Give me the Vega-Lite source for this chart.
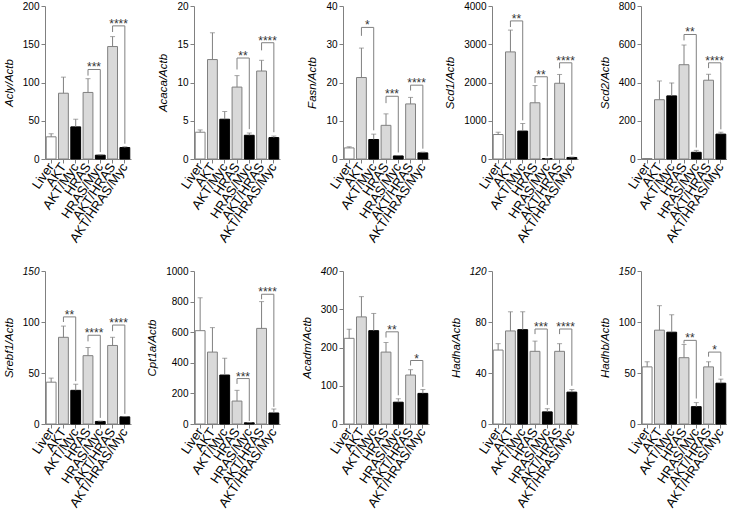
{
"$schema": "https://vega.github.io/schema/vega-lite/v6.json",
"padding": {"left": 3, "top": 1, "right": 0, "bottom": 0},
"config": {
 "font": "Liberation Sans",
 "view": {"stroke": null},
 "axis": {"grid": false, "domainColor": "#808080", "tickColor": "#808080", "labelColor": "#000", "titleColor": "#000", "tickSize": 4},
 "axisY": {"labelPadding": 2, "titleFontSize": 11.5, "titleFontStyle": "italic", "titleFontWeight": "normal", "titlePadding": 8}
},
"data": {"values": [
{"gene":"Acly","kind":"bar","group":"Liver","y":29,"hi":33},
{"gene":"Acly","kind":"bar","group":"AKT","y":86,"hi":107},
{"gene":"Acly","kind":"bar","group":"AKT/Myc","y":42,"hi":52},
{"gene":"Acly","kind":"bar","group":"HRAS","y":87,"hi":105},
{"gene":"Acly","kind":"bar","group":"HRAS/Myc","y":5,"hi":5.5},
{"gene":"Acly","kind":"bar","group":"AKT/HRAS","y":147,"hi":160},
{"gene":"Acly","kind":"bar","group":"AKT/HRAS/Myc","y":15,"hi":16},
{"gene":"Acly","kind":"br","id":"b1","ord":1,"group":"HRAS","y":109},
{"gene":"Acly","kind":"br","id":"b1","ord":2,"group":"HRAS","y":117},
{"gene":"Acly","kind":"br","id":"b1","ord":3,"group":"HRAS/Myc","y":117},
{"gene":"Acly","kind":"br","id":"b1","ord":4,"group":"HRAS/Myc","y":9},
{"gene":"Acly","kind":"star","group":"HRAS","y":117,"label":"***"},
{"gene":"Acly","kind":"br","id":"b2","ord":1,"group":"AKT/HRAS","y":166},
{"gene":"Acly","kind":"br","id":"b2","ord":2,"group":"AKT/HRAS","y":174},
{"gene":"Acly","kind":"br","id":"b2","ord":3,"group":"AKT/HRAS/Myc","y":174},
{"gene":"Acly","kind":"br","id":"b2","ord":4,"group":"AKT/HRAS/Myc","y":20},
{"gene":"Acly","kind":"star","group":"AKT/HRAS","y":174,"label":"****"},

{"gene":"Acaca","kind":"bar","group":"Liver","y":3.5,"hi":3.8},
{"gene":"Acaca","kind":"bar","group":"AKT","y":13,"hi":16.5},
{"gene":"Acaca","kind":"bar","group":"AKT/Myc","y":5.2,"hi":6.2},
{"gene":"Acaca","kind":"bar","group":"HRAS","y":9.4,"hi":10.9},
{"gene":"Acaca","kind":"bar","group":"HRAS/Myc","y":3.1,"hi":3.4},
{"gene":"Acaca","kind":"bar","group":"AKT/HRAS","y":11.5,"hi":12.9},
{"gene":"Acaca","kind":"bar","group":"AKT/HRAS/Myc","y":2.8,"hi":3.0},
{"gene":"Acaca","kind":"br","id":"b1","ord":1,"group":"HRAS","y":11.7},
{"gene":"Acaca","kind":"br","id":"b1","ord":2,"group":"HRAS","y":13.2},
{"gene":"Acaca","kind":"br","id":"b1","ord":3,"group":"HRAS/Myc","y":13.2},
{"gene":"Acaca","kind":"br","id":"b1","ord":4,"group":"HRAS/Myc","y":3.9},
{"gene":"Acaca","kind":"star","group":"HRAS","y":13.2,"label":"**"},
{"gene":"Acaca","kind":"br","id":"b2","ord":1,"group":"AKT/HRAS","y":14.2},
{"gene":"Acaca","kind":"br","id":"b2","ord":2,"group":"AKT/HRAS","y":15.2},
{"gene":"Acaca","kind":"br","id":"b2","ord":3,"group":"AKT/HRAS/Myc","y":15.2},
{"gene":"Acaca","kind":"br","id":"b2","ord":4,"group":"AKT/HRAS/Myc","y":3.5},
{"gene":"Acaca","kind":"star","group":"AKT/HRAS","y":15.2,"label":"****"},

{"gene":"Fasn","kind":"bar","group":"Liver","y":2.9,"hi":3.2},
{"gene":"Fasn","kind":"bar","group":"AKT","y":21.3,"hi":29},
{"gene":"Fasn","kind":"bar","group":"AKT/Myc","y":5.1,"hi":6.5},
{"gene":"Fasn","kind":"bar","group":"HRAS","y":8.8,"hi":11.8},
{"gene":"Fasn","kind":"bar","group":"HRAS/Myc","y":0.8,"hi":0.9},
{"gene":"Fasn","kind":"bar","group":"AKT/HRAS","y":14.4,"hi":16.1},
{"gene":"Fasn","kind":"bar","group":"AKT/HRAS/Myc","y":1.6,"hi":1.8},
{"gene":"Fasn","kind":"br","id":"b1","ord":1,"group":"AKT","y":32.2},
{"gene":"Fasn","kind":"br","id":"b1","ord":2,"group":"AKT","y":34.4},
{"gene":"Fasn","kind":"br","id":"b1","ord":3,"group":"AKT/Myc","y":34.4},
{"gene":"Fasn","kind":"br","id":"b1","ord":4,"group":"AKT/Myc","y":7.5},
{"gene":"Fasn","kind":"star","group":"AKT","y":34.4,"label":"*"},
{"gene":"Fasn","kind":"br","id":"b2","ord":1,"group":"HRAS","y":14.6},
{"gene":"Fasn","kind":"br","id":"b2","ord":2,"group":"HRAS","y":16.4},
{"gene":"Fasn","kind":"br","id":"b2","ord":3,"group":"HRAS/Myc","y":16.4},
{"gene":"Fasn","kind":"br","id":"b2","ord":4,"group":"HRAS/Myc","y":1.7},
{"gene":"Fasn","kind":"star","group":"HRAS","y":16.4,"label":"***"},
{"gene":"Fasn","kind":"br","id":"b3","ord":1,"group":"AKT/HRAS","y":17.9},
{"gene":"Fasn","kind":"br","id":"b3","ord":2,"group":"AKT/HRAS","y":19.3},
{"gene":"Fasn","kind":"br","id":"b3","ord":3,"group":"AKT/HRAS/Myc","y":19.3},
{"gene":"Fasn","kind":"br","id":"b3","ord":4,"group":"AKT/HRAS/Myc","y":2.7},
{"gene":"Fasn","kind":"star","group":"AKT/HRAS","y":19.3,"label":"****"},

{"gene":"Scd1","kind":"bar","group":"Liver","y":640,"hi":700},
{"gene":"Scd1","kind":"bar","group":"AKT","y":2800,"hi":3370},
{"gene":"Scd1","kind":"bar","group":"AKT/Myc","y":730,"hi":930},
{"gene":"Scd1","kind":"bar","group":"HRAS","y":1470,"hi":1920},
{"gene":"Scd1","kind":"bar","group":"HRAS/Myc","y":10,"hi":12},
{"gene":"Scd1","kind":"bar","group":"AKT/HRAS","y":1980,"hi":2210},
{"gene":"Scd1","kind":"bar","group":"AKT/HRAS/Myc","y":40,"hi":50},
{"gene":"Scd1","kind":"br","id":"b1","ord":1,"group":"AKT","y":3450},
{"gene":"Scd1","kind":"br","id":"b1","ord":2,"group":"AKT","y":3610},
{"gene":"Scd1","kind":"br","id":"b1","ord":3,"group":"AKT/Myc","y":3610},
{"gene":"Scd1","kind":"br","id":"b1","ord":4,"group":"AKT/Myc","y":1010},
{"gene":"Scd1","kind":"star","group":"AKT","y":3610,"label":"**"},
{"gene":"Scd1","kind":"br","id":"b2","ord":1,"group":"HRAS","y":1990},
{"gene":"Scd1","kind":"br","id":"b2","ord":2,"group":"HRAS","y":2150},
{"gene":"Scd1","kind":"br","id":"b2","ord":3,"group":"HRAS/Myc","y":2150},
{"gene":"Scd1","kind":"br","id":"b2","ord":4,"group":"HRAS/Myc","y":70},
{"gene":"Scd1","kind":"star","group":"HRAS","y":2150,"label":"**"},
{"gene":"Scd1","kind":"br","id":"b3","ord":1,"group":"AKT/HRAS","y":2370},
{"gene":"Scd1","kind":"br","id":"b3","ord":2,"group":"AKT/HRAS","y":2515},
{"gene":"Scd1","kind":"br","id":"b3","ord":3,"group":"AKT/HRAS/Myc","y":2515},
{"gene":"Scd1","kind":"br","id":"b3","ord":4,"group":"AKT/HRAS/Myc","y":110},
{"gene":"Scd1","kind":"star","group":"AKT/HRAS","y":2515,"label":"****"},

{"gene":"Scd2","kind":"bar","group":"Liver","y":2,"hi":2},
{"gene":"Scd2","kind":"bar","group":"AKT","y":310,"hi":408},
{"gene":"Scd2","kind":"bar","group":"AKT/Myc","y":330,"hi":398},
{"gene":"Scd2","kind":"bar","group":"HRAS","y":493,"hi":596},
{"gene":"Scd2","kind":"bar","group":"HRAS/Myc","y":35,"hi":45},
{"gene":"Scd2","kind":"bar","group":"AKT/HRAS","y":412,"hi":443},
{"gene":"Scd2","kind":"bar","group":"AKT/HRAS/Myc","y":130,"hi":140},
{"gene":"Scd2","kind":"br","id":"b1","ord":1,"group":"HRAS","y":620},
{"gene":"Scd2","kind":"br","id":"b1","ord":2,"group":"HRAS","y":651},
{"gene":"Scd2","kind":"br","id":"b1","ord":3,"group":"HRAS/Myc","y":651},
{"gene":"Scd2","kind":"br","id":"b1","ord":4,"group":"HRAS/Myc","y":60},
{"gene":"Scd2","kind":"star","group":"HRAS","y":651,"label":"**"},
{"gene":"Scd2","kind":"br","id":"b2","ord":1,"group":"AKT/HRAS","y":475},
{"gene":"Scd2","kind":"br","id":"b2","ord":2,"group":"AKT/HRAS","y":503},
{"gene":"Scd2","kind":"br","id":"b2","ord":3,"group":"AKT/HRAS/Myc","y":503},
{"gene":"Scd2","kind":"br","id":"b2","ord":4,"group":"AKT/HRAS/Myc","y":155},
{"gene":"Scd2","kind":"star","group":"AKT/HRAS","y":503,"label":"****"},

{"gene":"Srebf1","kind":"bar","group":"Liver","y":41,"hi":45},
{"gene":"Srebf1","kind":"bar","group":"AKT","y":85,"hi":96},
{"gene":"Srebf1","kind":"bar","group":"AKT/Myc","y":33,"hi":39},
{"gene":"Srebf1","kind":"bar","group":"HRAS","y":67,"hi":75},
{"gene":"Srebf1","kind":"bar","group":"HRAS/Myc","y":2.5,"hi":2.8},
{"gene":"Srebf1","kind":"bar","group":"AKT/HRAS","y":77,"hi":85},
{"gene":"Srebf1","kind":"bar","group":"AKT/HRAS/Myc","y":7,"hi":7.3},
{"gene":"Srebf1","kind":"br","id":"b1","ord":1,"group":"AKT","y":100},
{"gene":"Srebf1","kind":"br","id":"b1","ord":2,"group":"AKT","y":105},
{"gene":"Srebf1","kind":"br","id":"b1","ord":3,"group":"AKT/Myc","y":105},
{"gene":"Srebf1","kind":"br","id":"b1","ord":4,"group":"AKT/Myc","y":42},
{"gene":"Srebf1","kind":"star","group":"AKT","y":105,"label":"**"},
{"gene":"Srebf1","kind":"br","id":"b2","ord":1,"group":"HRAS","y":81},
{"gene":"Srebf1","kind":"br","id":"b2","ord":2,"group":"HRAS","y":87},
{"gene":"Srebf1","kind":"br","id":"b2","ord":3,"group":"HRAS/Myc","y":87},
{"gene":"Srebf1","kind":"br","id":"b2","ord":4,"group":"HRAS/Myc","y":6},
{"gene":"Srebf1","kind":"star","group":"HRAS","y":87,"label":"****"},
{"gene":"Srebf1","kind":"br","id":"b3","ord":1,"group":"AKT/HRAS","y":91},
{"gene":"Srebf1","kind":"br","id":"b3","ord":2,"group":"AKT/HRAS","y":97},
{"gene":"Srebf1","kind":"br","id":"b3","ord":3,"group":"AKT/HRAS/Myc","y":97},
{"gene":"Srebf1","kind":"br","id":"b3","ord":4,"group":"AKT/HRAS/Myc","y":10},
{"gene":"Srebf1","kind":"star","group":"AKT/HRAS","y":97,"label":"****"},

{"gene":"Cpt1a","kind":"bar","group":"Liver","y":610,"hi":825},
{"gene":"Cpt1a","kind":"bar","group":"AKT","y":470,"hi":630},
{"gene":"Cpt1a","kind":"bar","group":"AKT/Myc","y":320,"hi":430},
{"gene":"Cpt1a","kind":"bar","group":"HRAS","y":150,"hi":220},
{"gene":"Cpt1a","kind":"bar","group":"HRAS/Myc","y":8,"hi":10},
{"gene":"Cpt1a","kind":"bar","group":"AKT/HRAS","y":625,"hi":800},
{"gene":"Cpt1a","kind":"bar","group":"AKT/HRAS/Myc","y":72,"hi":98},
{"gene":"Cpt1a","kind":"br","id":"b1","ord":1,"group":"HRAS","y":262},
{"gene":"Cpt1a","kind":"br","id":"b1","ord":2,"group":"HRAS","y":297},
{"gene":"Cpt1a","kind":"br","id":"b1","ord":3,"group":"HRAS/Myc","y":297},
{"gene":"Cpt1a","kind":"br","id":"b1","ord":4,"group":"HRAS/Myc","y":20},
{"gene":"Cpt1a","kind":"star","group":"HRAS","y":297,"label":"***"},
{"gene":"Cpt1a","kind":"br","id":"b2","ord":1,"group":"AKT/HRAS","y":815},
{"gene":"Cpt1a","kind":"br","id":"b2","ord":2,"group":"AKT/HRAS","y":848},
{"gene":"Cpt1a","kind":"br","id":"b2","ord":3,"group":"AKT/HRAS/Myc","y":848},
{"gene":"Cpt1a","kind":"br","id":"b2","ord":4,"group":"AKT/HRAS/Myc","y":112},
{"gene":"Cpt1a","kind":"star","group":"AKT/HRAS","y":848,"label":"****"},

{"gene":"Acadm","kind":"bar","group":"Liver","y":224,"hi":248},
{"gene":"Acadm","kind":"bar","group":"AKT","y":280,"hi":333},
{"gene":"Acadm","kind":"bar","group":"AKT/Myc","y":244,"hi":289},
{"gene":"Acadm","kind":"bar","group":"HRAS","y":188,"hi":213},
{"gene":"Acadm","kind":"bar","group":"HRAS/Myc","y":57,"hi":66},
{"gene":"Acadm","kind":"bar","group":"AKT/HRAS","y":128,"hi":142},
{"gene":"Acadm","kind":"bar","group":"AKT/HRAS/Myc","y":80,"hi":90},
{"gene":"Acadm","kind":"br","id":"b1","ord":1,"group":"HRAS","y":226},
{"gene":"Acadm","kind":"br","id":"b1","ord":2,"group":"HRAS","y":241},
{"gene":"Acadm","kind":"br","id":"b1","ord":3,"group":"HRAS/Myc","y":241},
{"gene":"Acadm","kind":"br","id":"b1","ord":4,"group":"HRAS/Myc","y":75},
{"gene":"Acadm","kind":"star","group":"HRAS","y":241,"label":"**"},
{"gene":"Acadm","kind":"br","id":"b2","ord":1,"group":"AKT/HRAS","y":153},
{"gene":"Acadm","kind":"br","id":"b2","ord":2,"group":"AKT/HRAS","y":166},
{"gene":"Acadm","kind":"br","id":"b2","ord":3,"group":"AKT/HRAS/Myc","y":166},
{"gene":"Acadm","kind":"br","id":"b2","ord":4,"group":"AKT/HRAS/Myc","y":97},
{"gene":"Acadm","kind":"star","group":"AKT/HRAS","y":166,"label":"*"},

{"gene":"Hadha","kind":"bar","group":"Liver","y":58,"hi":63},
{"gene":"Hadha","kind":"bar","group":"AKT","y":73,"hi":88},
{"gene":"Hadha","kind":"bar","group":"AKT/Myc","y":74,"hi":88},
{"gene":"Hadha","kind":"bar","group":"HRAS","y":57,"hi":65},
{"gene":"Hadha","kind":"bar","group":"HRAS/Myc","y":9.5,"hi":12},
{"gene":"Hadha","kind":"bar","group":"AKT/HRAS","y":57,"hi":63},
{"gene":"Hadha","kind":"bar","group":"AKT/HRAS/Myc","y":25,"hi":27},
{"gene":"Hadha","kind":"br","id":"b1","ord":1,"group":"HRAS","y":70.5},
{"gene":"Hadha","kind":"br","id":"b1","ord":2,"group":"HRAS","y":74.5},
{"gene":"Hadha","kind":"br","id":"b1","ord":3,"group":"HRAS/Myc","y":74.5},
{"gene":"Hadha","kind":"br","id":"b1","ord":4,"group":"HRAS/Myc","y":15},
{"gene":"Hadha","kind":"star","group":"HRAS","y":74.5,"label":"***"},
{"gene":"Hadha","kind":"br","id":"b2","ord":1,"group":"AKT/HRAS","y":70.5},
{"gene":"Hadha","kind":"br","id":"b2","ord":2,"group":"AKT/HRAS","y":74.5},
{"gene":"Hadha","kind":"br","id":"b2","ord":3,"group":"AKT/HRAS/Myc","y":74.5},
{"gene":"Hadha","kind":"br","id":"b2","ord":4,"group":"AKT/HRAS/Myc","y":30},
{"gene":"Hadha","kind":"star","group":"AKT/HRAS","y":74.5,"label":"****"},

{"gene":"Hadhb","kind":"bar","group":"Liver","y":56,"hi":61},
{"gene":"Hadhb","kind":"bar","group":"AKT","y":92,"hi":116},
{"gene":"Hadhb","kind":"bar","group":"AKT/Myc","y":90,"hi":107},
{"gene":"Hadhb","kind":"bar","group":"HRAS","y":65,"hi":78},
{"gene":"Hadhb","kind":"bar","group":"HRAS/Myc","y":17,"hi":21},
{"gene":"Hadhb","kind":"bar","group":"AKT/HRAS","y":56,"hi":61},
{"gene":"Hadhb","kind":"bar","group":"AKT/HRAS/Myc","y":40,"hi":44},
{"gene":"Hadhb","kind":"br","id":"b1","ord":1,"group":"HRAS","y":79},
{"gene":"Hadhb","kind":"br","id":"b1","ord":2,"group":"HRAS","y":82},
{"gene":"Hadhb","kind":"br","id":"b1","ord":3,"group":"HRAS/Myc","y":82},
{"gene":"Hadhb","kind":"br","id":"b1","ord":4,"group":"HRAS/Myc","y":25},
{"gene":"Hadhb","kind":"star","group":"HRAS","y":82,"label":"**"},
{"gene":"Hadhb","kind":"br","id":"b2","ord":1,"group":"AKT/HRAS","y":66},
{"gene":"Hadhb","kind":"br","id":"b2","ord":2,"group":"AKT/HRAS","y":70.5},
{"gene":"Hadhb","kind":"br","id":"b2","ord":3,"group":"AKT/HRAS/Myc","y":70.5},
{"gene":"Hadhb","kind":"br","id":"b2","ord":4,"group":"AKT/HRAS/Myc","y":47},
{"gene":"Hadhb","kind":"star","group":"AKT/HRAS","y":70.5,"label":"*"}
]},
"columns": 5,
"bounds": "flush",
"spacing": {"row": 112, "column": 63},
"concat": [
{"width": 86, "height": 153, "transform": [{"filter": "datum.gene === 'Acly'"}],
 "encoding": {
  "x": {"field": "group", "type": "nominal", "title": null, "axis": {"labelAngle": -56, "labelFontSize": 13, "labelOverlap": false, "labelPadding": 1}, "sort": ["Liver","AKT","AKT/Myc","HRAS","HRAS/Myc","AKT/HRAS","AKT/HRAS/Myc"], "scale": {"type": "band", "paddingInner": 0.2, "paddingOuter": 0.1}},
  "y": {"field": "y", "type": "quantitative", "title": "Acly/Actb", "scale": {"domain": [0, 200], "nice": false}, "axis": {"values": [0, 50, 100, 150, 200], "labelOverlap": false, "labelFontSize": 10}}},
 "layer": [
  {"transform": [{"filter": "datum.kind === 'bar'"}], "mark": {"type": "bar", "strokeWidth": 1},
   "encoding": {
    "fill": {"field": "group", "type": "nominal", "legend": null, "scale": {"domain": ["Liver","AKT","AKT/Myc","HRAS","HRAS/Myc","AKT/HRAS","AKT/HRAS/Myc"], "range": ["#ffffff","#d9d9d9","#000000","#d9d9d9","#000000","#d9d9d9","#000000"]}},
    "stroke": {"field": "group", "type": "nominal", "legend": null, "scale": {"domain": ["Liver","AKT","AKT/Myc","HRAS","HRAS/Myc","AKT/HRAS","AKT/HRAS/Myc"], "range": ["#808080","#808080","#000000","#808080","#000000","#808080","#000000"]}}}},
  {"transform": [{"filter": "datum.kind === 'bar'"}], "mark": {"type": "rule", "color": "#808080"}, "encoding": {"y2": {"field": "hi"}}},
  {"transform": [{"filter": "datum.kind === 'bar'"}], "mark": {"type": "tick", "color": "#808080", "thickness": 1, "size": 5}, "encoding": {"y": {"field": "hi", "type": "quantitative", "title": "Acly/Actb", "scale": {"domain": [0, 200], "nice": false}, "axis": {"values": [0, 50, 100, 150, 200], "labelOverlap": false, "labelFontSize": 10}}}},
  {"transform": [{"filter": "datum.kind === 'br'"}], "mark": {"type": "line", "color": "#808080", "strokeWidth": 1}, "encoding": {"detail": {"field": "id", "type": "nominal"}, "order": {"field": "ord", "type": "quantitative"}}},
  {"transform": [{"filter": "datum.kind === 'star'"}], "mark": {"type": "text", "dx": 6, "dy": 2, "baseline": "alphabetic", "fontSize": 12, "color": "#333"}, "encoding": {"text": {"field": "label"}}}
 ]},
{"width": 86, "height": 153, "transform": [{"filter": "datum.gene === 'Acaca'"}],
 "encoding": {
  "x": {"field": "group", "type": "nominal", "title": null, "axis": {"labelAngle": -56, "labelFontSize": 13, "labelOverlap": false, "labelPadding": 1}, "sort": ["Liver","AKT","AKT/Myc","HRAS","HRAS/Myc","AKT/HRAS","AKT/HRAS/Myc"], "scale": {"type": "band", "paddingInner": 0.2, "paddingOuter": 0.1}},
  "y": {"field": "y", "type": "quantitative", "title": "Acaca/Actb", "scale": {"domain": [0, 20], "nice": false}, "axis": {"values": [0, 5, 10, 15, 20], "labelOverlap": false, "labelFontSize": 10}}},
 "layer": [
  {"transform": [{"filter": "datum.kind === 'bar'"}], "mark": {"type": "bar", "strokeWidth": 1},
   "encoding": {
    "fill": {"field": "group", "type": "nominal", "legend": null, "scale": {"domain": ["Liver","AKT","AKT/Myc","HRAS","HRAS/Myc","AKT/HRAS","AKT/HRAS/Myc"], "range": ["#ffffff","#d9d9d9","#000000","#d9d9d9","#000000","#d9d9d9","#000000"]}},
    "stroke": {"field": "group", "type": "nominal", "legend": null, "scale": {"domain": ["Liver","AKT","AKT/Myc","HRAS","HRAS/Myc","AKT/HRAS","AKT/HRAS/Myc"], "range": ["#808080","#808080","#000000","#808080","#000000","#808080","#000000"]}}}},
  {"transform": [{"filter": "datum.kind === 'bar'"}], "mark": {"type": "rule", "color": "#808080"}, "encoding": {"y2": {"field": "hi"}}},
  {"transform": [{"filter": "datum.kind === 'bar'"}], "mark": {"type": "tick", "color": "#808080", "thickness": 1, "size": 5}, "encoding": {"y": {"field": "hi", "type": "quantitative", "title": "Acaca/Actb", "scale": {"domain": [0, 20], "nice": false}, "axis": {"values": [0, 5, 10, 15, 20], "labelOverlap": false, "labelFontSize": 10}}}},
  {"transform": [{"filter": "datum.kind === 'br'"}], "mark": {"type": "line", "color": "#808080", "strokeWidth": 1}, "encoding": {"detail": {"field": "id", "type": "nominal"}, "order": {"field": "ord", "type": "quantitative"}}},
  {"transform": [{"filter": "datum.kind === 'star'"}], "mark": {"type": "text", "dx": 6, "dy": 2, "baseline": "alphabetic", "fontSize": 12, "color": "#333"}, "encoding": {"text": {"field": "label"}}}
 ]},
{"width": 86, "height": 153, "transform": [{"filter": "datum.gene === 'Fasn'"}],
 "encoding": {
  "x": {"field": "group", "type": "nominal", "title": null, "axis": {"labelAngle": -56, "labelFontSize": 13, "labelOverlap": false, "labelPadding": 1}, "sort": ["Liver","AKT","AKT/Myc","HRAS","HRAS/Myc","AKT/HRAS","AKT/HRAS/Myc"], "scale": {"type": "band", "paddingInner": 0.2, "paddingOuter": 0.1}},
  "y": {"field": "y", "type": "quantitative", "title": "Fasn/Actb", "scale": {"domain": [0, 40], "nice": false}, "axis": {"values": [0, 10, 20, 30, 40], "labelOverlap": false, "labelFontSize": 10}}},
 "layer": [
  {"transform": [{"filter": "datum.kind === 'bar'"}], "mark": {"type": "bar", "strokeWidth": 1},
   "encoding": {
    "fill": {"field": "group", "type": "nominal", "legend": null, "scale": {"domain": ["Liver","AKT","AKT/Myc","HRAS","HRAS/Myc","AKT/HRAS","AKT/HRAS/Myc"], "range": ["#ffffff","#d9d9d9","#000000","#d9d9d9","#000000","#d9d9d9","#000000"]}},
    "stroke": {"field": "group", "type": "nominal", "legend": null, "scale": {"domain": ["Liver","AKT","AKT/Myc","HRAS","HRAS/Myc","AKT/HRAS","AKT/HRAS/Myc"], "range": ["#808080","#808080","#000000","#808080","#000000","#808080","#000000"]}}}},
  {"transform": [{"filter": "datum.kind === 'bar'"}], "mark": {"type": "rule", "color": "#808080"}, "encoding": {"y2": {"field": "hi"}}},
  {"transform": [{"filter": "datum.kind === 'bar'"}], "mark": {"type": "tick", "color": "#808080", "thickness": 1, "size": 5}, "encoding": {"y": {"field": "hi", "type": "quantitative", "title": "Fasn/Actb", "scale": {"domain": [0, 40], "nice": false}, "axis": {"values": [0, 10, 20, 30, 40], "labelOverlap": false, "labelFontSize": 10}}}},
  {"transform": [{"filter": "datum.kind === 'br'"}], "mark": {"type": "line", "color": "#808080", "strokeWidth": 1}, "encoding": {"detail": {"field": "id", "type": "nominal"}, "order": {"field": "ord", "type": "quantitative"}}},
  {"transform": [{"filter": "datum.kind === 'star'"}], "mark": {"type": "text", "dx": 6, "dy": 2, "baseline": "alphabetic", "fontSize": 12, "color": "#333"}, "encoding": {"text": {"field": "label"}}}
 ]},
{"width": 86, "height": 153, "transform": [{"filter": "datum.gene === 'Scd1'"}],
 "encoding": {
  "x": {"field": "group", "type": "nominal", "title": null, "axis": {"labelAngle": -56, "labelFontSize": 13, "labelOverlap": false, "labelPadding": 1}, "sort": ["Liver","AKT","AKT/Myc","HRAS","HRAS/Myc","AKT/HRAS","AKT/HRAS/Myc"], "scale": {"type": "band", "paddingInner": 0.2, "paddingOuter": 0.1}},
  "y": {"field": "y", "type": "quantitative", "title": "Scd1/Actb", "scale": {"domain": [0, 4000], "nice": false}, "axis": {"values": [0, 1000, 2000, 3000, 4000], "format": "d", "labelOverlap": false, "labelFontSize": 10}}},
 "layer": [
  {"transform": [{"filter": "datum.kind === 'bar'"}], "mark": {"type": "bar", "strokeWidth": 1},
   "encoding": {
    "fill": {"field": "group", "type": "nominal", "legend": null, "scale": {"domain": ["Liver","AKT","AKT/Myc","HRAS","HRAS/Myc","AKT/HRAS","AKT/HRAS/Myc"], "range": ["#ffffff","#d9d9d9","#000000","#d9d9d9","#000000","#d9d9d9","#000000"]}},
    "stroke": {"field": "group", "type": "nominal", "legend": null, "scale": {"domain": ["Liver","AKT","AKT/Myc","HRAS","HRAS/Myc","AKT/HRAS","AKT/HRAS/Myc"], "range": ["#808080","#808080","#000000","#808080","#000000","#808080","#000000"]}}}},
  {"transform": [{"filter": "datum.kind === 'bar'"}], "mark": {"type": "rule", "color": "#808080"}, "encoding": {"y2": {"field": "hi"}}},
  {"transform": [{"filter": "datum.kind === 'bar'"}], "mark": {"type": "tick", "color": "#808080", "thickness": 1, "size": 5}, "encoding": {"y": {"field": "hi", "type": "quantitative", "title": "Scd1/Actb", "scale": {"domain": [0, 4000], "nice": false}, "axis": {"values": [0, 1000, 2000, 3000, 4000], "format": "d", "labelOverlap": false, "labelFontSize": 10}}}},
  {"transform": [{"filter": "datum.kind === 'br'"}], "mark": {"type": "line", "color": "#808080", "strokeWidth": 1}, "encoding": {"detail": {"field": "id", "type": "nominal"}, "order": {"field": "ord", "type": "quantitative"}}},
  {"transform": [{"filter": "datum.kind === 'star'"}], "mark": {"type": "text", "dx": 6, "dy": 2, "baseline": "alphabetic", "fontSize": 12, "color": "#333"}, "encoding": {"text": {"field": "label"}}}
 ]},
{"width": 86, "height": 153, "transform": [{"filter": "datum.gene === 'Scd2'"}],
 "encoding": {
  "x": {"field": "group", "type": "nominal", "title": null, "axis": {"labelAngle": -56, "labelFontSize": 13, "labelOverlap": false, "labelPadding": 1}, "sort": ["Liver","AKT","AKT/Myc","HRAS","HRAS/Myc","AKT/HRAS","AKT/HRAS/Myc"], "scale": {"type": "band", "paddingInner": 0.2, "paddingOuter": 0.1}},
  "y": {"field": "y", "type": "quantitative", "title": "Scd2/Actb", "scale": {"domain": [0, 800], "nice": false}, "axis": {"values": [0, 200, 400, 600, 800], "labelOverlap": false, "labelFontSize": 10}}},
 "layer": [
  {"transform": [{"filter": "datum.kind === 'bar'"}], "mark": {"type": "bar", "strokeWidth": 1},
   "encoding": {
    "fill": {"field": "group", "type": "nominal", "legend": null, "scale": {"domain": ["Liver","AKT","AKT/Myc","HRAS","HRAS/Myc","AKT/HRAS","AKT/HRAS/Myc"], "range": ["#ffffff","#d9d9d9","#000000","#d9d9d9","#000000","#d9d9d9","#000000"]}},
    "stroke": {"field": "group", "type": "nominal", "legend": null, "scale": {"domain": ["Liver","AKT","AKT/Myc","HRAS","HRAS/Myc","AKT/HRAS","AKT/HRAS/Myc"], "range": ["#808080","#808080","#000000","#808080","#000000","#808080","#000000"]}}}},
  {"transform": [{"filter": "datum.kind === 'bar'"}], "mark": {"type": "rule", "color": "#808080"}, "encoding": {"y2": {"field": "hi"}}},
  {"transform": [{"filter": "datum.kind === 'bar'"}], "mark": {"type": "tick", "color": "#808080", "thickness": 1, "size": 5}, "encoding": {"y": {"field": "hi", "type": "quantitative", "title": "Scd2/Actb", "scale": {"domain": [0, 800], "nice": false}, "axis": {"values": [0, 200, 400, 600, 800], "labelOverlap": false, "labelFontSize": 10}}}},
  {"transform": [{"filter": "datum.kind === 'br'"}], "mark": {"type": "line", "color": "#808080", "strokeWidth": 1}, "encoding": {"detail": {"field": "id", "type": "nominal"}, "order": {"field": "ord", "type": "quantitative"}}},
  {"transform": [{"filter": "datum.kind === 'star'"}], "mark": {"type": "text", "dx": 6, "dy": 2, "baseline": "alphabetic", "fontSize": 12, "color": "#333"}, "encoding": {"text": {"field": "label"}}}
 ]},
{"width": 86, "height": 153, "transform": [{"filter": "datum.gene === 'Srebf1'"}],
 "encoding": {
  "x": {"field": "group", "type": "nominal", "title": null, "axis": {"labelAngle": -56, "labelFontSize": 13, "labelOverlap": false, "labelPadding": 1}, "sort": ["Liver","AKT","AKT/Myc","HRAS","HRAS/Myc","AKT/HRAS","AKT/HRAS/Myc"], "scale": {"type": "band", "paddingInner": 0.2, "paddingOuter": 0.1}},
  "y": {"field": "y", "type": "quantitative", "title": "Srebf1/Actb", "scale": {"domain": [0, 150], "nice": false}, "axis": {"values": [0, 50, 100, 150], "labelOverlap": false, "labelFontSize": 10, "labelFontStyle": {"condition": {"test": "datum.value === 150", "value": "italic"}, "value": "normal"}}}},
 "layer": [
  {"transform": [{"filter": "datum.kind === 'bar'"}], "mark": {"type": "bar", "strokeWidth": 1},
   "encoding": {
    "fill": {"field": "group", "type": "nominal", "legend": null, "scale": {"domain": ["Liver","AKT","AKT/Myc","HRAS","HRAS/Myc","AKT/HRAS","AKT/HRAS/Myc"], "range": ["#ffffff","#d9d9d9","#000000","#d9d9d9","#000000","#d9d9d9","#000000"]}},
    "stroke": {"field": "group", "type": "nominal", "legend": null, "scale": {"domain": ["Liver","AKT","AKT/Myc","HRAS","HRAS/Myc","AKT/HRAS","AKT/HRAS/Myc"], "range": ["#808080","#808080","#000000","#808080","#000000","#808080","#000000"]}}}},
  {"transform": [{"filter": "datum.kind === 'bar'"}], "mark": {"type": "rule", "color": "#808080"}, "encoding": {"y2": {"field": "hi"}}},
  {"transform": [{"filter": "datum.kind === 'bar'"}], "mark": {"type": "tick", "color": "#808080", "thickness": 1, "size": 5}, "encoding": {"y": {"field": "hi", "type": "quantitative", "title": "Srebf1/Actb", "scale": {"domain": [0, 150], "nice": false}, "axis": {"values": [0, 50, 100, 150], "labelOverlap": false, "labelFontSize": 10, "labelFontStyle": {"condition": {"test": "datum.value === 150", "value": "italic"}, "value": "normal"}}}}},
  {"transform": [{"filter": "datum.kind === 'br'"}], "mark": {"type": "line", "color": "#808080", "strokeWidth": 1}, "encoding": {"detail": {"field": "id", "type": "nominal"}, "order": {"field": "ord", "type": "quantitative"}}},
  {"transform": [{"filter": "datum.kind === 'star'"}], "mark": {"type": "text", "dx": 6, "dy": 2, "baseline": "alphabetic", "fontSize": 12, "color": "#333"}, "encoding": {"text": {"field": "label"}}}
 ]},
{"width": 86, "height": 153, "transform": [{"filter": "datum.gene === 'Cpt1a'"}],
 "encoding": {
  "x": {"field": "group", "type": "nominal", "title": null, "axis": {"labelAngle": -56, "labelFontSize": 13, "labelOverlap": false, "labelPadding": 1}, "sort": ["Liver","AKT","AKT/Myc","HRAS","HRAS/Myc","AKT/HRAS","AKT/HRAS/Myc"], "scale": {"type": "band", "paddingInner": 0.2, "paddingOuter": 0.1}},
  "y": {"field": "y", "type": "quantitative", "title": "Cpt1a/Actb", "scale": {"domain": [0, 1000], "nice": false}, "axis": {"values": [0, 200, 400, 600, 800, 1000], "format": "d", "labelOverlap": false, "labelFontSize": 10}}},
 "layer": [
  {"transform": [{"filter": "datum.kind === 'bar'"}], "mark": {"type": "bar", "strokeWidth": 1},
   "encoding": {
    "fill": {"field": "group", "type": "nominal", "legend": null, "scale": {"domain": ["Liver","AKT","AKT/Myc","HRAS","HRAS/Myc","AKT/HRAS","AKT/HRAS/Myc"], "range": ["#ffffff","#d9d9d9","#000000","#d9d9d9","#000000","#d9d9d9","#000000"]}},
    "stroke": {"field": "group", "type": "nominal", "legend": null, "scale": {"domain": ["Liver","AKT","AKT/Myc","HRAS","HRAS/Myc","AKT/HRAS","AKT/HRAS/Myc"], "range": ["#808080","#808080","#000000","#808080","#000000","#808080","#000000"]}}}},
  {"transform": [{"filter": "datum.kind === 'bar'"}], "mark": {"type": "rule", "color": "#808080"}, "encoding": {"y2": {"field": "hi"}}},
  {"transform": [{"filter": "datum.kind === 'bar'"}], "mark": {"type": "tick", "color": "#808080", "thickness": 1, "size": 5}, "encoding": {"y": {"field": "hi", "type": "quantitative", "title": "Cpt1a/Actb", "scale": {"domain": [0, 1000], "nice": false}, "axis": {"values": [0, 200, 400, 600, 800, 1000], "format": "d", "labelOverlap": false, "labelFontSize": 10}}}},
  {"transform": [{"filter": "datum.kind === 'br'"}], "mark": {"type": "line", "color": "#808080", "strokeWidth": 1}, "encoding": {"detail": {"field": "id", "type": "nominal"}, "order": {"field": "ord", "type": "quantitative"}}},
  {"transform": [{"filter": "datum.kind === 'star'"}], "mark": {"type": "text", "dx": 6, "dy": 2, "baseline": "alphabetic", "fontSize": 12, "color": "#333"}, "encoding": {"text": {"field": "label"}}}
 ]},
{"width": 86, "height": 153, "transform": [{"filter": "datum.gene === 'Acadm'"}],
 "encoding": {
  "x": {"field": "group", "type": "nominal", "title": null, "axis": {"labelAngle": -56, "labelFontSize": 13, "labelOverlap": false, "labelPadding": 1}, "sort": ["Liver","AKT","AKT/Myc","HRAS","HRAS/Myc","AKT/HRAS","AKT/HRAS/Myc"], "scale": {"type": "band", "paddingInner": 0.2, "paddingOuter": 0.1}},
  "y": {"field": "y", "type": "quantitative", "title": "Acadm/Actb", "scale": {"domain": [0, 400], "nice": false}, "axis": {"values": [0, 100, 200, 300, 400], "labelOverlap": false, "labelFontSize": 10, "labelFontStyle": {"condition": {"test": "datum.value === 400", "value": "italic"}, "value": "normal"}}}},
 "layer": [
  {"transform": [{"filter": "datum.kind === 'bar'"}], "mark": {"type": "bar", "strokeWidth": 1},
   "encoding": {
    "fill": {"field": "group", "type": "nominal", "legend": null, "scale": {"domain": ["Liver","AKT","AKT/Myc","HRAS","HRAS/Myc","AKT/HRAS","AKT/HRAS/Myc"], "range": ["#ffffff","#d9d9d9","#000000","#d9d9d9","#000000","#d9d9d9","#000000"]}},
    "stroke": {"field": "group", "type": "nominal", "legend": null, "scale": {"domain": ["Liver","AKT","AKT/Myc","HRAS","HRAS/Myc","AKT/HRAS","AKT/HRAS/Myc"], "range": ["#808080","#808080","#000000","#808080","#000000","#808080","#000000"]}}}},
  {"transform": [{"filter": "datum.kind === 'bar'"}], "mark": {"type": "rule", "color": "#808080"}, "encoding": {"y2": {"field": "hi"}}},
  {"transform": [{"filter": "datum.kind === 'bar'"}], "mark": {"type": "tick", "color": "#808080", "thickness": 1, "size": 5}, "encoding": {"y": {"field": "hi", "type": "quantitative", "title": "Acadm/Actb", "scale": {"domain": [0, 400], "nice": false}, "axis": {"values": [0, 100, 200, 300, 400], "labelOverlap": false, "labelFontSize": 10, "labelFontStyle": {"condition": {"test": "datum.value === 400", "value": "italic"}, "value": "normal"}}}}},
  {"transform": [{"filter": "datum.kind === 'br'"}], "mark": {"type": "line", "color": "#808080", "strokeWidth": 1}, "encoding": {"detail": {"field": "id", "type": "nominal"}, "order": {"field": "ord", "type": "quantitative"}}},
  {"transform": [{"filter": "datum.kind === 'star'"}], "mark": {"type": "text", "dx": 6, "dy": 2, "baseline": "alphabetic", "fontSize": 12, "color": "#333"}, "encoding": {"text": {"field": "label"}}}
 ]},
{"width": 86, "height": 153, "transform": [{"filter": "datum.gene === 'Hadha'"}],
 "encoding": {
  "x": {"field": "group", "type": "nominal", "title": null, "axis": {"labelAngle": -56, "labelFontSize": 13, "labelOverlap": false, "labelPadding": 1}, "sort": ["Liver","AKT","AKT/Myc","HRAS","HRAS/Myc","AKT/HRAS","AKT/HRAS/Myc"], "scale": {"type": "band", "paddingInner": 0.2, "paddingOuter": 0.1}},
  "y": {"field": "y", "type": "quantitative", "title": "Hadha/Actb", "scale": {"domain": [0, 120], "nice": false}, "axis": {"values": [0, 40, 80, 120], "labelOverlap": false, "labelFontSize": 10, "labelFontStyle": {"condition": {"test": "datum.value === 120", "value": "italic"}, "value": "normal"}}}},
 "layer": [
  {"transform": [{"filter": "datum.kind === 'bar'"}], "mark": {"type": "bar", "strokeWidth": 1},
   "encoding": {
    "fill": {"field": "group", "type": "nominal", "legend": null, "scale": {"domain": ["Liver","AKT","AKT/Myc","HRAS","HRAS/Myc","AKT/HRAS","AKT/HRAS/Myc"], "range": ["#ffffff","#d9d9d9","#000000","#d9d9d9","#000000","#d9d9d9","#000000"]}},
    "stroke": {"field": "group", "type": "nominal", "legend": null, "scale": {"domain": ["Liver","AKT","AKT/Myc","HRAS","HRAS/Myc","AKT/HRAS","AKT/HRAS/Myc"], "range": ["#808080","#808080","#000000","#808080","#000000","#808080","#000000"]}}}},
  {"transform": [{"filter": "datum.kind === 'bar'"}], "mark": {"type": "rule", "color": "#808080"}, "encoding": {"y2": {"field": "hi"}}},
  {"transform": [{"filter": "datum.kind === 'bar'"}], "mark": {"type": "tick", "color": "#808080", "thickness": 1, "size": 5}, "encoding": {"y": {"field": "hi", "type": "quantitative", "title": "Hadha/Actb", "scale": {"domain": [0, 120], "nice": false}, "axis": {"values": [0, 40, 80, 120], "labelOverlap": false, "labelFontSize": 10, "labelFontStyle": {"condition": {"test": "datum.value === 120", "value": "italic"}, "value": "normal"}}}}},
  {"transform": [{"filter": "datum.kind === 'br'"}], "mark": {"type": "line", "color": "#808080", "strokeWidth": 1}, "encoding": {"detail": {"field": "id", "type": "nominal"}, "order": {"field": "ord", "type": "quantitative"}}},
  {"transform": [{"filter": "datum.kind === 'star'"}], "mark": {"type": "text", "dx": 6, "dy": 2, "baseline": "alphabetic", "fontSize": 12, "color": "#333"}, "encoding": {"text": {"field": "label"}}}
 ]},
{"width": 86, "height": 153, "transform": [{"filter": "datum.gene === 'Hadhb'"}],
 "encoding": {
  "x": {"field": "group", "type": "nominal", "title": null, "axis": {"labelAngle": -56, "labelFontSize": 13, "labelOverlap": false, "labelPadding": 1}, "sort": ["Liver","AKT","AKT/Myc","HRAS","HRAS/Myc","AKT/HRAS","AKT/HRAS/Myc"], "scale": {"type": "band", "paddingInner": 0.2, "paddingOuter": 0.1}},
  "y": {"field": "y", "type": "quantitative", "title": "Hadhb/Actb", "scale": {"domain": [0, 150], "nice": false}, "axis": {"values": [0, 50, 100, 150], "labelOverlap": false, "labelFontSize": 10, "labelFontStyle": {"condition": {"test": "datum.value === 150", "value": "italic"}, "value": "normal"}}}},
 "layer": [
  {"transform": [{"filter": "datum.kind === 'bar'"}], "mark": {"type": "bar", "strokeWidth": 1},
   "encoding": {
    "fill": {"field": "group", "type": "nominal", "legend": null, "scale": {"domain": ["Liver","AKT","AKT/Myc","HRAS","HRAS/Myc","AKT/HRAS","AKT/HRAS/Myc"], "range": ["#ffffff","#d9d9d9","#000000","#d9d9d9","#000000","#d9d9d9","#000000"]}},
    "stroke": {"field": "group", "type": "nominal", "legend": null, "scale": {"domain": ["Liver","AKT","AKT/Myc","HRAS","HRAS/Myc","AKT/HRAS","AKT/HRAS/Myc"], "range": ["#808080","#808080","#000000","#808080","#000000","#808080","#000000"]}}}},
  {"transform": [{"filter": "datum.kind === 'bar'"}], "mark": {"type": "rule", "color": "#808080"}, "encoding": {"y2": {"field": "hi"}}},
  {"transform": [{"filter": "datum.kind === 'bar'"}], "mark": {"type": "tick", "color": "#808080", "thickness": 1, "size": 5}, "encoding": {"y": {"field": "hi", "type": "quantitative", "title": "Hadhb/Actb", "scale": {"domain": [0, 150], "nice": false}, "axis": {"values": [0, 50, 100, 150], "labelOverlap": false, "labelFontSize": 10, "labelFontStyle": {"condition": {"test": "datum.value === 150", "value": "italic"}, "value": "normal"}}}}},
  {"transform": [{"filter": "datum.kind === 'br'"}], "mark": {"type": "line", "color": "#808080", "strokeWidth": 1}, "encoding": {"detail": {"field": "id", "type": "nominal"}, "order": {"field": "ord", "type": "quantitative"}}},
  {"transform": [{"filter": "datum.kind === 'star'"}], "mark": {"type": "text", "dx": 6, "dy": 2, "baseline": "alphabetic", "fontSize": 12, "color": "#333"}, "encoding": {"text": {"field": "label"}}}
 ]}
]
}
